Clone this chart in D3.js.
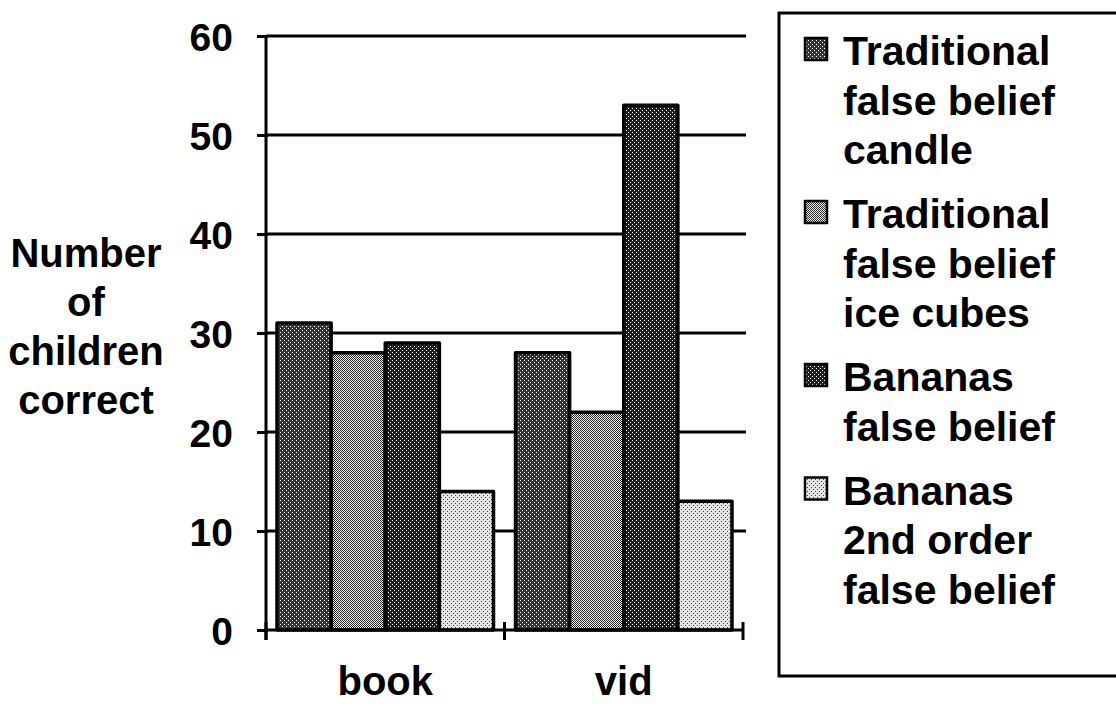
<!DOCTYPE html>
<html>
<head>
<meta charset="utf-8">
<script src="https://cdn.jsdelivr.net/npm/d3@7"></script>
<style>
  html, body { margin: 0; padding: 0; background: #fff; }
  svg { display: block; }
  text { font-family: "Liberation Sans", Arial, sans-serif; font-weight: bold; fill: #000; }
</style>
</head>
<body>
<svg id="chart" width="1116" height="705"></svg>
<script>
// ---- data ----
const categories = ["book", "vid"];
const seriesNames = [
  "Traditional false belief candle",
  "Traditional false belief ice cubes",
  "Bananas false belief",
  "Bananas 2nd order false belief"
];
const legendLines = [
  ["Traditional", "false belief", "candle"],
  ["Traditional", "false belief", "ice cubes"],
  ["Bananas", "false belief"],
  ["Bananas", "2nd order", "false belief"]
];
const candleValues   = [31, 28];
const iceCubesValues = [28, 22];
const bananasValues  = [29, 53];
const secondOrderValues = [14, 13];
const yTicks = [0, 10, 20, 30, 40, 50, 60];
const yTitleLines = ["Number", "of", "children", "correct"];

const seriesValues = [candleValues, iceCubesValues, bananasValues, secondOrderValues];

// ---- layout ----
const svg = d3.select("#chart");
const x0 = 266, x1 = 743, yBottom = 630, yTop = 36;

const y = d3.scaleLinear().domain([0, 60]).range([yBottom, yTop]);
const x = d3.scaleBand().domain(categories).range([x0, x1]).padding(0);
const barPad = 11;
const xs = d3.scaleBand().domain(d3.range(seriesNames.length))
  .range([barPad, x.bandwidth() - barPad]).padding(0);

// ---- patterns (halftone-like fills) ----
const defs = svg.append("defs");
function dotPattern(id, bg, dots, dotColor, size) {
  const p = defs.append("pattern").attr("id", id)
    .attr("patternUnits", "userSpaceOnUse").attr("width", size).attr("height", size);
  p.append("rect").attr("width", size).attr("height", size).attr("fill", bg);
  dots.forEach(([dx, dy]) => p.append("rect").attr("x", dx).attr("y", dy)
    .attr("width", 1).attr("height", 1).attr("fill", dotColor));
}
dotPattern("p0", "#363636", [[0, 0], [2, 2]], "#ffffff", 4);
dotPattern("p1", "#f0f0f0", [[0, 0], [1, 1], [2, 2], [3, 3], [2, 0], [3, 1], [0, 2], [1, 3]], "#262626", 4);
dotPattern("p2", "#202020", [[0, 0], [2, 2]], "#ffffff", 4);
dotPattern("p3", "#e6e6e6", [[1, 1], [3, 3]], "#444", 4);
const fills = ["url(#p0)", "url(#p1)", "url(#p2)", "url(#p3)"];

// ---- gridlines ----
svg.append("g").selectAll("line").data(yTicks.filter(d => d > 0)).join("line")
  .attr("x1", x0).attr("x2", 746)
  .attr("y1", d => y(d)).attr("y2", d => y(d))
  .attr("stroke", "#000").attr("stroke-width", 3);

// ---- bars ----
const barData = [];
categories.forEach((c, ci) => {
  seriesValues.forEach((vals, si) => barData.push({ c, si, v: vals[ci] }));
});
svg.append("g").selectAll("rect").data(barData).join("rect")
  .attr("x", d => x(d.c) + xs(d.si))
  .attr("width", xs.bandwidth())
  .attr("y", d => y(d.v))
  .attr("height", d => y(0) - y(d.v))
  .attr("fill", d => fills[d.si])
  .attr("stroke", "#000").attr("stroke-width", 3.5)
  .attr("stroke-linejoin", "round");

// ---- y axis ----
const yAxis = d3.axisLeft(y).tickValues(yTicks).tickSize(9).tickPadding(24).tickFormat(d3.format("d"));
const gy = svg.append("g").attr("transform", `translate(${x0},0)`).call(yAxis);
gy.select(".domain").attr("stroke-width", 3).attr("d", `M0,${yTop}V${yBottom + 10}`);
gy.selectAll(".tick line").attr("stroke-width", 3).attr("x2", -9).attr("x1", 2);
gy.selectAll(".tick text").style("font-size", "39px").style("font-family", "Liberation Sans, Arial, sans-serif")
  .style("font-weight", "bold").attr("dy", "0.36em");

// ---- x axis ----
svg.append("line").attr("x1", x0).attr("x2", x1).attr("y1", yBottom).attr("y2", yBottom)
  .attr("stroke", "#000").attr("stroke-width", 3);
const boundaries = [x.range()[0]].concat(categories.map(c => x(c) + x.bandwidth()));
svg.append("g").selectAll("line").data(boundaries).join("line")
  .attr("x1", d => d).attr("x2", d => d)
  .attr("y1", yBottom - 8).attr("y2", yBottom + 10)
  .attr("stroke", "#000").attr("stroke-width", 3);
const xAxis = d3.axisBottom(x).tickSize(0).tickPadding(0);
const gx = svg.append("g").attr("transform", `translate(0,${yBottom})`).call(xAxis);
gx.select(".domain").remove();
gx.selectAll(".tick text").style("font-size", "40px").style("font-family", "Liberation Sans, Arial, sans-serif")
  .style("font-weight", "bold").attr("y", 65).attr("dy", 0);

// ---- y title ----
const yt = svg.append("text").attr("text-anchor", "middle").style("font-size", "40px");
yTitleLines.forEach((t, i) => yt.append("tspan").attr("x", 86).attr("y", 267 + i * 49).text(t));

// ---- legend ----
svg.append("rect").attr("x", 779).attr("y", 13).attr("width", 400).attr("height", 663)
  .attr("fill", "none").attr("stroke", "#000").attr("stroke-width", 3);
const lh = 49.5, gap = 64;
let base = 65;
const lg = svg.append("g");
legendLines.forEach((lines, i) => {
  lg.append("rect").attr("x", 805).attr("y", base - 27).attr("width", 22).attr("height", 22)
    .attr("fill", fills[i]).attr("stroke", "#000").attr("stroke-width", 2.5);
  const t = lg.append("text").style("font-size", "41px");
  lines.forEach((line, j) => t.append("tspan").attr("x", 843).attr("y", base + j * lh).text(line));
  base += (lines.length - 1) * lh + gap;
});
</script>
</body>
</html>
